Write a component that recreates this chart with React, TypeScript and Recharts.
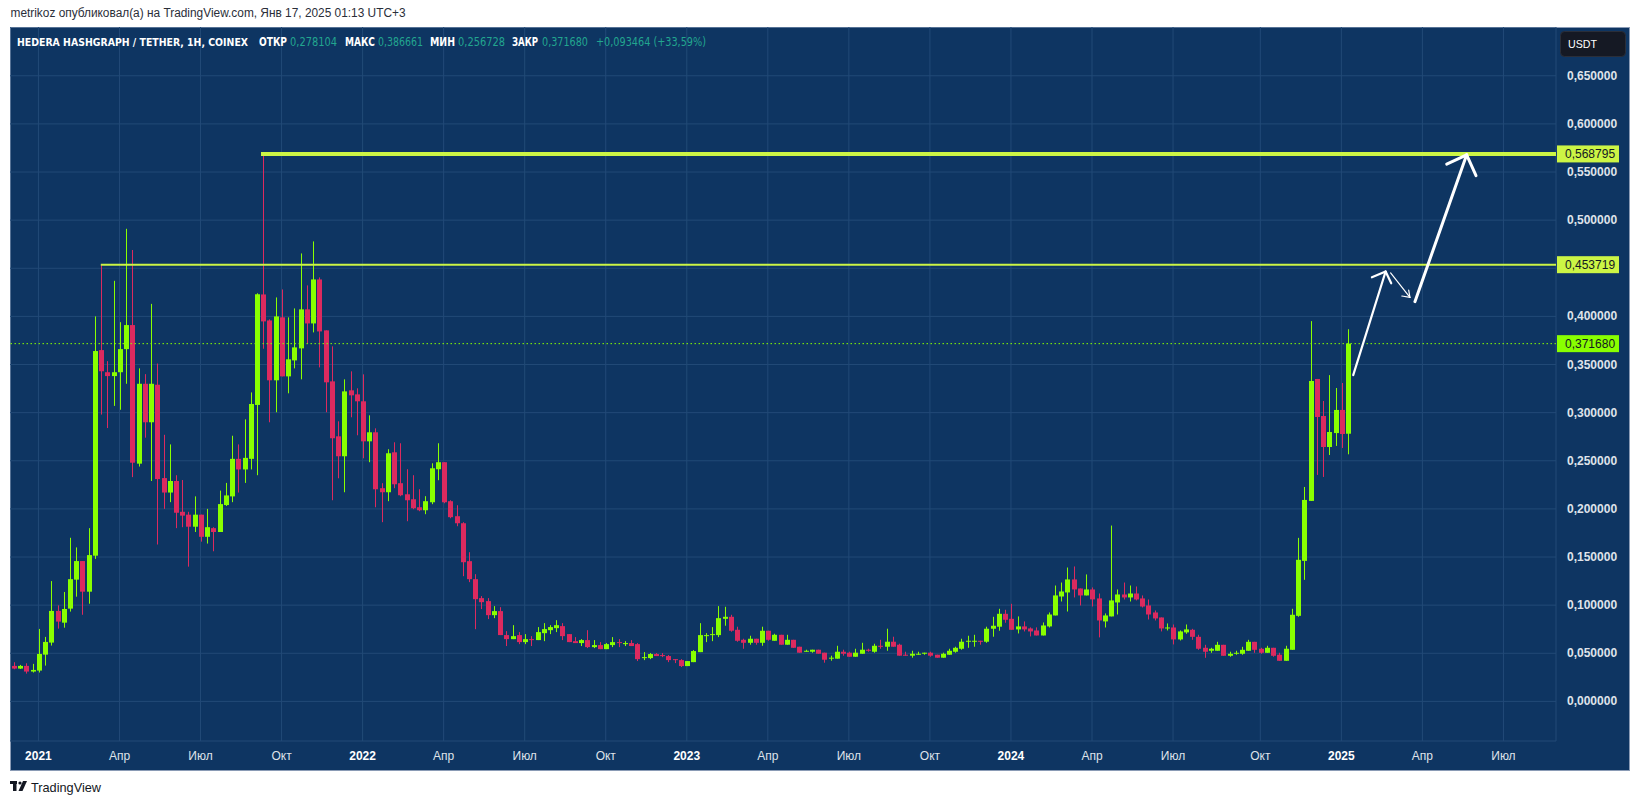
import { Bar, CartesianGrid, ComposedChart, ReferenceLine, XAxis, YAxis } from "recharts";

// weekly candles, Dec 7 2020 -> Jan 13 2025 (index = week number)
const OPEN = [
  0.0369, 0.0341, 0.0369, 0.031, 0.032, 0.0486, 0.0611, 0.094, 0.0818, 0.0964,
  0.1265, 0.1458, 0.114, 0.1514, 0.365, 0.342, 0.338, 0.342, 0.366, 0.391,
  0.247, 0.33, 0.29, 0.329, 0.232, 0.217, 0.229, 0.197, 0.194, 0.1815,
  0.194, 0.171, 0.18, 0.176, 0.204, 0.213, 0.252, 0.241, 0.252, 0.308,
  0.4228, 0.3958, 0.3336, 0.399, 0.3377, 0.3543, 0.3668, 0.4073, 0.3927, 0.4384,
  0.3855, 0.3325, 0.2754, 0.2547, 0.3232, 0.319, 0.3118, 0.2702, 0.2796, 0.2215,
  0.2173, 0.2588, 0.2267, 0.2152, 0.21, 0.2017, 0.1986, 0.2069, 0.2412, 0.2485,
  0.208, 0.1924, 0.1851, 0.1457, 0.127, 0.1073, 0.1042, 0.0896, 0.0938, 0.0689,
  0.0647, 0.0689, 0.0616, 0.0647, 0.0637, 0.0709, 0.074, 0.0761, 0.0782, 0.0699,
  0.0626, 0.0606, 0.0637, 0.0564, 0.0585, 0.0543, 0.0585, 0.0616, 0.0595, 0.0606,
  0.0595, 0.045, 0.045, 0.0492, 0.0481, 0.0471, 0.0439, 0.0429, 0.0367, 0.0408,
  0.0512, 0.0678, 0.0689, 0.0689, 0.0858, 0.0879, 0.0744, 0.064, 0.0609, 0.0651,
  0.0609, 0.0734, 0.063, 0.0692, 0.0589, 0.064, 0.0568, 0.0516, 0.0516, 0.0537,
  0.0506, 0.0444, 0.0444, 0.0516, 0.0506, 0.0464, 0.0495, 0.0537, 0.0516, 0.0578,
  0.0568, 0.062, 0.0589, 0.0485, 0.0475, 0.0485, 0.0495, 0.0506, 0.0485, 0.0454,
  0.0485, 0.0516, 0.0547, 0.062, 0.062, 0.063, 0.062, 0.0755, 0.0776, 0.091,
  0.0858, 0.0748, 0.0779, 0.0758, 0.0737, 0.0685, 0.0779, 0.0893, 0.109, 0.1132,
  0.1267, 0.1173, 0.1101, 0.1163, 0.107, 0.0831, 0.0883, 0.1028, 0.1111, 0.108,
  0.1121, 0.107, 0.0997, 0.0924, 0.0872, 0.0758, 0.0768, 0.0644, 0.0717, 0.0744,
  0.0671, 0.0557, 0.0526, 0.0526, 0.0588, 0.0474, 0.0495, 0.0495, 0.0526, 0.0619,
  0.0547, 0.0505, 0.0557, 0.0485, 0.0422, 0.0536, 0.0889, 0.146, 0.2083, 0.335,
  0.2965, 0.2643, 0.2788, 0.3028, 0.278104,
];
const HIGH = [
  0.0407, 0.0379, 0.0396, 0.039, 0.0753, 0.067, 0.125, 0.0998, 0.1137, 0.17,
  0.16, 0.1458, 0.18, 0.4, 0.4537, 0.3535, 0.437, 0.394, 0.491, 0.469,
  0.346, 0.34, 0.413, 0.351, 0.277, 0.267, 0.235, 0.23, 0.197, 0.213,
  0.194, 0.2, 0.181, 0.219, 0.227, 0.276, 0.267, 0.293, 0.321, 0.424,
  0.568795, 0.3969, 0.4197, 0.428, 0.399, 0.4083, 0.4654, 0.4322, 0.4779, 0.4405,
  0.3855, 0.3689, 0.291, 0.3346, 0.3429, 0.3253, 0.3398, 0.2972, 0.2837, 0.2267,
  0.262, 0.2692, 0.2682, 0.2412, 0.235, 0.2204, 0.2132, 0.2474, 0.2682, 0.2485,
  0.209, 0.2038, 0.1862, 0.155, 0.1322, 0.1094, 0.1073, 0.099, 0.0979, 0.073,
  0.0792, 0.072, 0.0699, 0.0678, 0.0772, 0.0813, 0.0792, 0.0844, 0.0813, 0.0699,
  0.0668, 0.0647, 0.074, 0.0637, 0.0616, 0.0606, 0.0668, 0.0647, 0.0626, 0.0637,
  0.0606, 0.0512, 0.0502, 0.0502, 0.0502, 0.0481, 0.0439, 0.0439, 0.0419, 0.0533,
  0.0813, 0.0709, 0.0772, 0.099, 0.0983, 0.09, 0.0776, 0.0651, 0.0682, 0.0651,
  0.0776, 0.0734, 0.0703, 0.0692, 0.0692, 0.064, 0.0568, 0.0537, 0.0537, 0.0537,
  0.0506, 0.0475, 0.0578, 0.0537, 0.0516, 0.0547, 0.0609, 0.0547, 0.0599, 0.064,
  0.0755, 0.0672, 0.0599, 0.0516, 0.0526, 0.0516, 0.0506, 0.0516, 0.0485, 0.0506,
  0.0547, 0.0568, 0.0651, 0.0682, 0.0692, 0.063, 0.0776, 0.0879, 0.0962, 0.0952,
  0.1014, 0.0883, 0.0831, 0.0769, 0.0769, 0.082, 0.0924, 0.1204, 0.1235, 0.1391,
  0.1402, 0.1173, 0.1319, 0.1184, 0.1121, 0.0914, 0.1827, 0.1163, 0.1235, 0.1204,
  0.1194, 0.1101, 0.1059, 0.0945, 0.0872, 0.081, 0.0799, 0.0737, 0.0799, 0.0754,
  0.0692, 0.0588, 0.0557, 0.0619, 0.0588, 0.0516, 0.0526, 0.0567, 0.064, 0.0619,
  0.0557, 0.0578, 0.0557, 0.0505, 0.0578, 0.0962, 0.1699, 0.2228, 0.3951, 0.335,
  0.3121, 0.339, 0.3256, 0.3308, 0.386661,
];
const LOW = [
  0.0334, 0.0337, 0.0289, 0.03, 0.03, 0.0372, 0.058, 0.0756, 0.0766, 0.0933,
  0.1088, 0.09, 0.1015, 0.148, 0.298, 0.284, 0.307, 0.303, 0.33, 0.233,
  0.244, 0.274, 0.229, 0.163, 0.2, 0.207, 0.18, 0.181, 0.14, 0.176,
  0.166, 0.164, 0.156, 0.176, 0.203, 0.207, 0.217, 0.227, 0.241, 0.235,
  0.3664, 0.29, 0.3004, 0.3377, 0.3201, 0.346, 0.3346, 0.3716, 0.3834, 0.347,
  0.3004, 0.209, 0.2318, 0.2173, 0.2952, 0.2765, 0.2526, 0.2485, 0.2017, 0.1862,
  0.208, 0.2215, 0.2132, 0.1872, 0.1997, 0.1976, 0.1945, 0.2049, 0.2298, 0.2059,
  0.1903, 0.182, 0.1301, 0.1239, 0.075, 0.0959, 0.0855, 0.0865, 0.0689, 0.0575,
  0.0647, 0.0595, 0.0595, 0.0575, 0.0637, 0.0626, 0.0699, 0.072, 0.0637, 0.0616,
  0.0606, 0.0575, 0.0554, 0.0554, 0.0543, 0.0543, 0.0564, 0.0564, 0.0575, 0.0575,
  0.0419, 0.0429, 0.0439, 0.0471, 0.046, 0.0408, 0.0398, 0.0357, 0.0367, 0.0408,
  0.0512, 0.0616, 0.0626, 0.0668, 0.0786, 0.0724, 0.062, 0.0547, 0.0589, 0.0589,
  0.0578, 0.063, 0.063, 0.0589, 0.0589, 0.0557, 0.0506, 0.0516, 0.0506, 0.0495,
  0.0402, 0.0423, 0.0444, 0.0475, 0.0464, 0.0464, 0.0495, 0.0516, 0.0506, 0.0547,
  0.0526, 0.0568, 0.0475, 0.0475, 0.0454, 0.0485, 0.0485, 0.0464, 0.0454, 0.0454,
  0.0485, 0.0506, 0.0537, 0.0557, 0.0568, 0.0589, 0.0609, 0.0672, 0.0734, 0.0817,
  0.0744, 0.0706, 0.0727, 0.0675, 0.0685, 0.0685, 0.0768, 0.0893, 0.1038, 0.0934,
  0.108, 0.0997, 0.1101, 0.0986, 0.0665, 0.0768, 0.0883, 0.0903, 0.1059, 0.1038,
  0.1049, 0.0976, 0.0851, 0.0841, 0.0727, 0.0737, 0.0592, 0.0633, 0.0702, 0.064,
  0.0536, 0.0453, 0.0505, 0.0526, 0.0474, 0.0464, 0.0485, 0.0485, 0.0526, 0.0505,
  0.0495, 0.0505, 0.0464, 0.0422, 0.0422, 0.0536, 0.0879, 0.1263, 0.2083, 0.2353,
  0.2332, 0.256, 0.2654, 0.2633, 0.256728,
];
const CLOSE = [
  0.0341, 0.0369, 0.031, 0.0327, 0.0493, 0.0618, 0.094, 0.0829, 0.096, 0.127,
  0.1458, 0.114, 0.152, 0.364, 0.343, 0.338, 0.342, 0.366, 0.391, 0.248,
  0.33, 0.29, 0.33, 0.231, 0.217, 0.229, 0.196, 0.193, 0.1815, 0.194,
  0.171, 0.181, 0.176, 0.205, 0.214, 0.252, 0.241, 0.253, 0.309, 0.423,
  0.3948, 0.3336, 0.4, 0.3377, 0.3554, 0.3678, 0.4073, 0.3927, 0.4384, 0.3844,
  0.3315, 0.2734, 0.2547, 0.3221, 0.318, 0.3118, 0.2702, 0.2796, 0.2204, 0.2173,
  0.2578, 0.2256, 0.2142, 0.209, 0.2007, 0.1986, 0.208, 0.2422, 0.2485, 0.2069,
  0.1914, 0.1851, 0.1446, 0.127, 0.1062, 0.1031, 0.0896, 0.0938, 0.0689, 0.0647,
  0.0678, 0.0616, 0.0647, 0.064, 0.072, 0.0751, 0.0772, 0.0792, 0.0678, 0.0616,
  0.0606, 0.0637, 0.0564, 0.0585, 0.0543, 0.0595, 0.0616, 0.0606, 0.0606, 0.0575,
  0.0439, 0.046, 0.0492, 0.0471, 0.0471, 0.0429, 0.0429, 0.0367, 0.0419, 0.0523,
  0.0689, 0.0689, 0.0699, 0.0865, 0.0879, 0.0734, 0.063, 0.0609, 0.0651, 0.0609,
  0.0734, 0.064, 0.0692, 0.0589, 0.064, 0.0557, 0.0506, 0.0526, 0.0537, 0.0495,
  0.0433, 0.0454, 0.0516, 0.0495, 0.0464, 0.0506, 0.0537, 0.0526, 0.0578, 0.0568,
  0.062, 0.0568, 0.0475, 0.0475, 0.0495, 0.0495, 0.0506, 0.0475, 0.0454, 0.0495,
  0.0526, 0.0557, 0.062, 0.063, 0.063, 0.062, 0.0755, 0.0786, 0.091, 0.0848,
  0.0744, 0.0779, 0.0748, 0.0727, 0.0685, 0.0789, 0.0903, 0.1101, 0.1142, 0.1267,
  0.1163, 0.1101, 0.1163, 0.106, 0.0841, 0.0893, 0.1049, 0.1111, 0.108, 0.1121,
  0.1059, 0.0986, 0.0903, 0.0862, 0.0758, 0.0768, 0.0644, 0.0727, 0.0748, 0.0671,
  0.0547, 0.0516, 0.0547, 0.0588, 0.0474, 0.0495, 0.0505, 0.0536, 0.0619, 0.0536,
  0.0505, 0.0557, 0.0474, 0.0422, 0.0547, 0.09, 0.1471, 0.2093, 0.3329, 0.2955,
  0.2643, 0.2799, 0.3028, 0.2778, 0.37168,
];

const X_TICKS = [4, 17, 30, 43, 56, 69, 82, 95, 108, 121, 134, 147, 160, 173, 186, 200, 213, 226, 239];
const X_LABELS = ["2021", "Апр", "Июл", "Окт", "2022", "Апр", "Июл", "Окт", "2023", "Апр", "Июл", "Окт", "2024", "Апр", "Июл", "Окт", "2025", "Апр", "Июл"];
const Y_TICKS = [0, 0.05, 0.1, 0.15, 0.2, 0.25, 0.3, 0.35, 0.4, 0.45, 0.5, 0.55, 0.6, 0.65];

const ATH_LEVEL = 0.568795;
const RES_LEVEL = 0.453719;
const LAST_PRICE = 0.37168;

// drawn arrows (week index, price)
const ARROW_UP_1 = [[214.9, 0.339], [220.1, 0.4466]];
const ARROW_UP_1_HEAD = [[217.9, 0.4406], [220.1, 0.4466], [221.0, 0.4344]];
const ARROW_DOWN = [[220.9, 0.4451], [224.0, 0.4198]];
const ARROW_DOWN_HEAD = [[222.7, 0.4212], [224.0, 0.4198], [223.8, 0.4274]];
const ARROW_UP_2 = [[224.8, 0.4153], [233.1, 0.5679]];
const ARROW_UP_2_HEAD = [[229.9, 0.5581], [233.1, 0.5679], [234.6, 0.5462]];

const BG = "#0e3562";
const GRID = "#224a77";
const UP = "#89ff00";
const DOWN = "#dc2a5f";
const LEVEL = "#ccf545";
const AXIS_TEXT = "#dfe3ea";
const VALUE = "#22a68f";

const candles = OPEN.map((o, i) => ({ i, o, h: HIGH[i], l: LOW[i], c: CLOSE[i] }));

const fmt = (v: number) => v.toFixed(6).replace(".", ",");

function Candle(props: any) {
  const { x, width, payload } = props;
  let { y, height } = props;
  if (height < 0) {
    y += height;
    height = -height;
  }
  const { o, h, l, c } = payload;
  const cx = Math.round(x + width / 2);
  const ratio = h - l > 0 ? height / (h - l) : 0;
  const top = Math.max(o, c);
  const bot = Math.min(o, c);
  const bodyTop = y + (h - top) * ratio;
  const bodyH = Math.max(1, (top - bot) * ratio);
  const color = c >= o ? UP : DOWN;
  return (
    <g>
      <line x1={cx + 0.5} x2={cx + 0.5} y1={y} y2={y + height} stroke={color} strokeWidth={1} />
      <rect x={cx - 2} y={bodyTop} width={5} height={bodyH} fill={color} />
    </g>
  );
}

function TimeTick(props: any) {
  const { x, y, payload } = props;
  const idx = X_TICKS.indexOf(payload.value);
  const label = X_LABELS[idx] ?? "";
  const isYear = /^\d+$/.test(label);
  return (
    <text
      x={x}
      y={y + 17}
      textAnchor="middle"
      fontSize={12}
      fontFamily="Liberation Sans, Arial, sans-serif"
      fontWeight={isYear ? 700 : 400}
      fill={isYear ? "#ffffff" : AXIS_TEXT}
    >
      {label}
    </text>
  );
}

function PriceTick(props: any) {
  const { x, y, payload } = props;
  if (Math.abs(payload.value - 0.45) < 1e-9) return null;
  return (
    <text x={x + 9} y={y + 4} fontSize={12} fontFamily="Liberation Sans, Arial, sans-serif" fontWeight={700} fill={AXIS_TEXT}>
      {fmt(payload.value)}
    </text>
  );
}

function priceTag(value: number, fill: string) {
  return (props: any) => {
    const vb = props.viewBox;
    if (!vb) return null;
    const right = vb.x + vb.width;
    return (
      <g>
        <rect x={right + 1} y={vb.y - 8.5} width={62} height={17} fill={fill} />
        <text x={right + 9} y={vb.y + 4.5} fontSize={12} fontFamily="Liberation Sans, Arial, sans-serif" fill="#131722">
          {fmt(value)}
        </text>
      </g>
    );
  };
}

function segs(points: number[][]) {
  const out: { x: number; y: number }[][] = [];
  for (let k = 0; k < points.length - 1; k++) {
    out.push([
      { x: points[k][0], y: points[k][1] },
      { x: points[k + 1][0], y: points[k + 1][1] },
    ]);
  }
  return out;
}

export default function App() {
  const arrowLines: { seg: { x: number; y: number }[]; w: number }[] = [
    ...segs(ARROW_UP_1).map((seg) => ({ seg, w: 2.2 })),
    ...segs(ARROW_UP_1_HEAD).map((seg) => ({ seg, w: 2.2 })),
    ...segs(ARROW_DOWN).map((seg) => ({ seg, w: 1.2 })),
    ...segs(ARROW_DOWN_HEAD).map((seg) => ({ seg, w: 1.2 })),
    ...segs(ARROW_UP_2).map((seg) => ({ seg, w: 3 })),
    ...segs(ARROW_UP_2_HEAD).map((seg) => ({ seg, w: 3 })),
  ];

  const sans = "Liberation Sans, Arial, sans-serif";
  const narrow = "'Liberation Sans Narrow', 'DejaVu Sans Condensed', 'Liberation Sans', sans-serif";

  return (
    <div style={{ position: "absolute", left: 0, top: 0, width: 1640, height: 805, background: "#ffffff", overflow: "hidden" }}>
      <div
        style={{
          position: "absolute",
          left: 10,
          top: 27,
          width: 1620,
          height: 744,
          background: BG,
          border: "1px solid #8a9bb5",
          boxSizing: "border-box",
        }}
      />
      <div style={{ position: "absolute", left: 10, top: 27 }}>
        <ComposedChart
          width={1620}
          height={744}
          data={candles}
          margin={{ top: 0, right: 0, bottom: 0, left: 0 }}
        >
          <CartesianGrid stroke={GRID} strokeWidth={1} />
          <XAxis
            dataKey="i"
            type="number"
            domain={[-0.5614, 247.43]}
            allowDataOverflow
            ticks={X_TICKS}
            interval={0}
            height={30}
            axisLine={false}
            tickLine={false}
            tickSize={0}
            tick={<TimeTick />}
          />
          <YAxis
            orientation="right"
            type="number"
            domain={[-0.04114, 0.70067]}
            allowDataOverflow
            ticks={Y_TICKS}
            interval={0}
            width={74}
            axisLine={false}
            tickLine={false}
            tickSize={0}
            tick={<PriceTick />}
          />
          <Bar
            dataKey={(d: any) => [d.l, d.h]}
            barSize={5}
            shape={<Candle />}
            isAnimationActive={false}
          />
          <ReferenceLine
            segment={[{ x: 14, y: RES_LEVEL }, { x: 247.43, y: RES_LEVEL }]}
            stroke={LEVEL}
            strokeWidth={2}
          />
          <ReferenceLine
            segment={[{ x: 39.7, y: ATH_LEVEL }, { x: 247.43, y: ATH_LEVEL }]}
            stroke={LEVEL}
            strokeWidth={4}
          />
          <ReferenceLine y={LAST_PRICE} stroke={UP} strokeWidth={1} strokeDasharray="1.5 2.5" label={priceTag(LAST_PRICE, UP)} />
          <ReferenceLine y={RES_LEVEL} stroke="none" label={priceTag(RES_LEVEL, LEVEL)} />
          <ReferenceLine y={ATH_LEVEL} stroke="none" label={priceTag(ATH_LEVEL, LEVEL)} />
          {arrowLines.map((a, k) => (
            <ReferenceLine
              key={k}
              segment={a.seg}
              stroke="#ffffff"
              strokeWidth={a.w}
              strokeLinecap="round"
            />
          ))}
        </ComposedChart>
      </div>
      <svg width={1640} height={805} style={{ position: "absolute", left: 0, top: 0, pointerEvents: "none" }}>
        <text x={10.5} y={17} fontSize={12} fontFamily={sans} fill="#2a2e39" textLength={395} lengthAdjust="spacingAndGlyphs">
          metrikoz опубликовал(а) на TradingView.com, Янв 17, 2025 01:13 UTC+3
        </text>
        <g fontSize={11.5} fontFamily={narrow}>
          <text x={17} y={45.5} fill="#ffffff" fontWeight={700} fontSize={10.5} textLength={231} lengthAdjust="spacingAndGlyphs">
            HEDERA HASHGRAPH / TETHER, 1H, COINEX
          </text>
          <text x={259} y={45.5} fill="#ffffff" fontWeight={700} textLength={28} lengthAdjust="spacingAndGlyphs">ОТКР</text>
          <text x={290} y={45.5} fill={VALUE} textLength={47} lengthAdjust="spacingAndGlyphs">0,278104</text>
          <text x={345} y={45.5} fill="#ffffff" fontWeight={700} textLength={30} lengthAdjust="spacingAndGlyphs">МАКС</text>
          <text x={378} y={45.5} fill={VALUE} textLength={45} lengthAdjust="spacingAndGlyphs">0,386661</text>
          <text x={430} y={45.5} fill="#ffffff" fontWeight={700} textLength={25} lengthAdjust="spacingAndGlyphs">МИН</text>
          <text x={458} y={45.5} fill={VALUE} textLength={47} lengthAdjust="spacingAndGlyphs">0,256728</text>
          <text x={512} y={45.5} fill="#ffffff" fontWeight={700} textLength={26} lengthAdjust="spacingAndGlyphs">ЗАКР</text>
          <text x={542} y={45.5} fill={VALUE} textLength={46} lengthAdjust="spacingAndGlyphs">0,371680</text>
          <text x={596} y={45.5} fill={VALUE} textLength={110} lengthAdjust="spacingAndGlyphs">+0,093464 (+33,59%)</text>
        </g>
        <rect x={1560.5} y={31.5} width={65} height={25} rx={4} fill="#151924" stroke="#2a2e39" />
        <text x={1568} y={48} fontSize={11} fontFamily={sans} fill="#ffffff" textLength={29} lengthAdjust="spacingAndGlyphs">USDT</text>
        <g fill="#131722">
          <rect x={10} y={781} width={7} height={3} />
          <rect x={13} y={781} width={3.5} height={10} />
          <circle cx={20} cy={783} r={1.6} />
          <polygon points="23,781 27,781 22.5,791 18.5,791" />
        </g>
        <text x={31} y={792} fontSize={13} fontFamily={sans} fill="#131722" textLength={70} lengthAdjust="spacingAndGlyphs">TradingView</text>
      </svg>
    </div>
  );
}
